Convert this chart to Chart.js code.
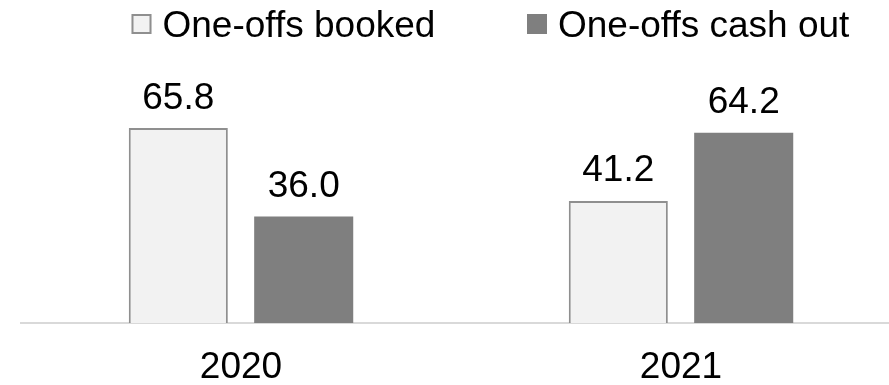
<!DOCTYPE html>
<html lang="en">
<head>
<meta charset="UTF-8">
<title>One-offs booked vs cash out</title>
<script src="https://cdn.jsdelivr.net/npm/chart.js"></script>
<style>
    html, body {
        margin: 0;
        padding: 0;
        background: #fff;
        overflow: hidden;
    }
    /* slightly wider than the window: the plot runs off the right edge like the original */
    .chart-box {
        position: relative;
        width: 901px;
        height: 385px;
    }
</style>
</head>
<body>
<div class="chart-box"><canvas id="oneOffsChart"></canvas></div>
<script>
const years = ['2020', '2021'];
const booked = [65.8, 41.2];
const cashOut = [36.0, 64.2];
const seriesNames = ['One-offs booked', 'One-offs cash out'];

const FONT = '"Liberation Sans", Arial, sans-serif';

// numbers above each bar
const valueLabels = {
    id: 'valueLabels',
    afterDatasetsDraw(chart) {
        const ctx = chart.ctx;
        ctx.save();
        ctx.font = '37px ' + FONT;
        ctx.fillStyle = '#000';
        ctx.textAlign = 'center';
        ctx.textBaseline = 'alphabetic';
        chart.data.datasets.forEach((ds, i) => {
            chart.getDatasetMeta(i).data.forEach((bar, j) => {
                ctx.fillText(ds.data[j].toFixed(1), bar.x, bar.y - 19.5);
            });
        });
        ctx.restore();
    }
};

// hand-drawn legend, the built-in one can't space the two items this far apart
const legendRow = {
    id: 'legendRow',
    afterDraw(chart) {
        const ctx = chart.ctx;
        const xs = [131.5, 527];
        ctx.save();
        ctx.font = '37px ' + FONT;
        ctx.textBaseline = 'alphabetic';
        chart.data.datasets.forEach((ds, i) => {
            ctx.fillStyle = ds.backgroundColor;
            ctx.fillRect(xs[i], 14, 20, 20);
            if (ds.borderWidth) {
                ctx.strokeStyle = ds.borderColor;
                ctx.lineWidth = 2;
                ctx.strokeRect(xs[i] + 1, 15, 18, 18);
            }
            ctx.fillStyle = '#000';
            ctx.fillText(ds.label, xs[i] + 31, 36.5);
        });
        ctx.restore();
    }
};

new Chart(document.getElementById('oneOffsChart'), {
    type: 'bar',
    data: {
        labels: years,
        datasets: [
            {
                label: seriesNames[0],
                data: booked,
                backgroundColor: '#f2f2f2',
                borderColor: '#8f8f8f',
                borderWidth: 2
            },
            {
                label: seriesNames[1],
                data: cashOut,
                backgroundColor: '#7f7f7f',
                borderWidth: 0
            }
        ]
    },
    options: {
        responsive: true,
        maintainAspectRatio: false,
        animation: false,
        categoryPercentage: 0.57,
        barPercentage: 0.79,
        layout: { padding: { left: 21, right: 0, top: 60, bottom: 0 } },
        plugins: {
            legend: { display: false },
            tooltip: { enabled: false }
        },
        scales: {
            x: {
                grid: { display: false, drawTicks: false },
                border: { display: true, color: '#d9d9d9', width: 2 },
                ticks: {
                    color: '#000',
                    font: { family: FONT, size: 37 },
                    padding: 23
                },
                afterFit(scale) { scale.height = 62; }
            },
            y: {
                display: false,
                min: 0,
                max: 88.8
            }
        }
    },
    plugins: [valueLabels, legendRow]
});
</script>
</body>
</html>
